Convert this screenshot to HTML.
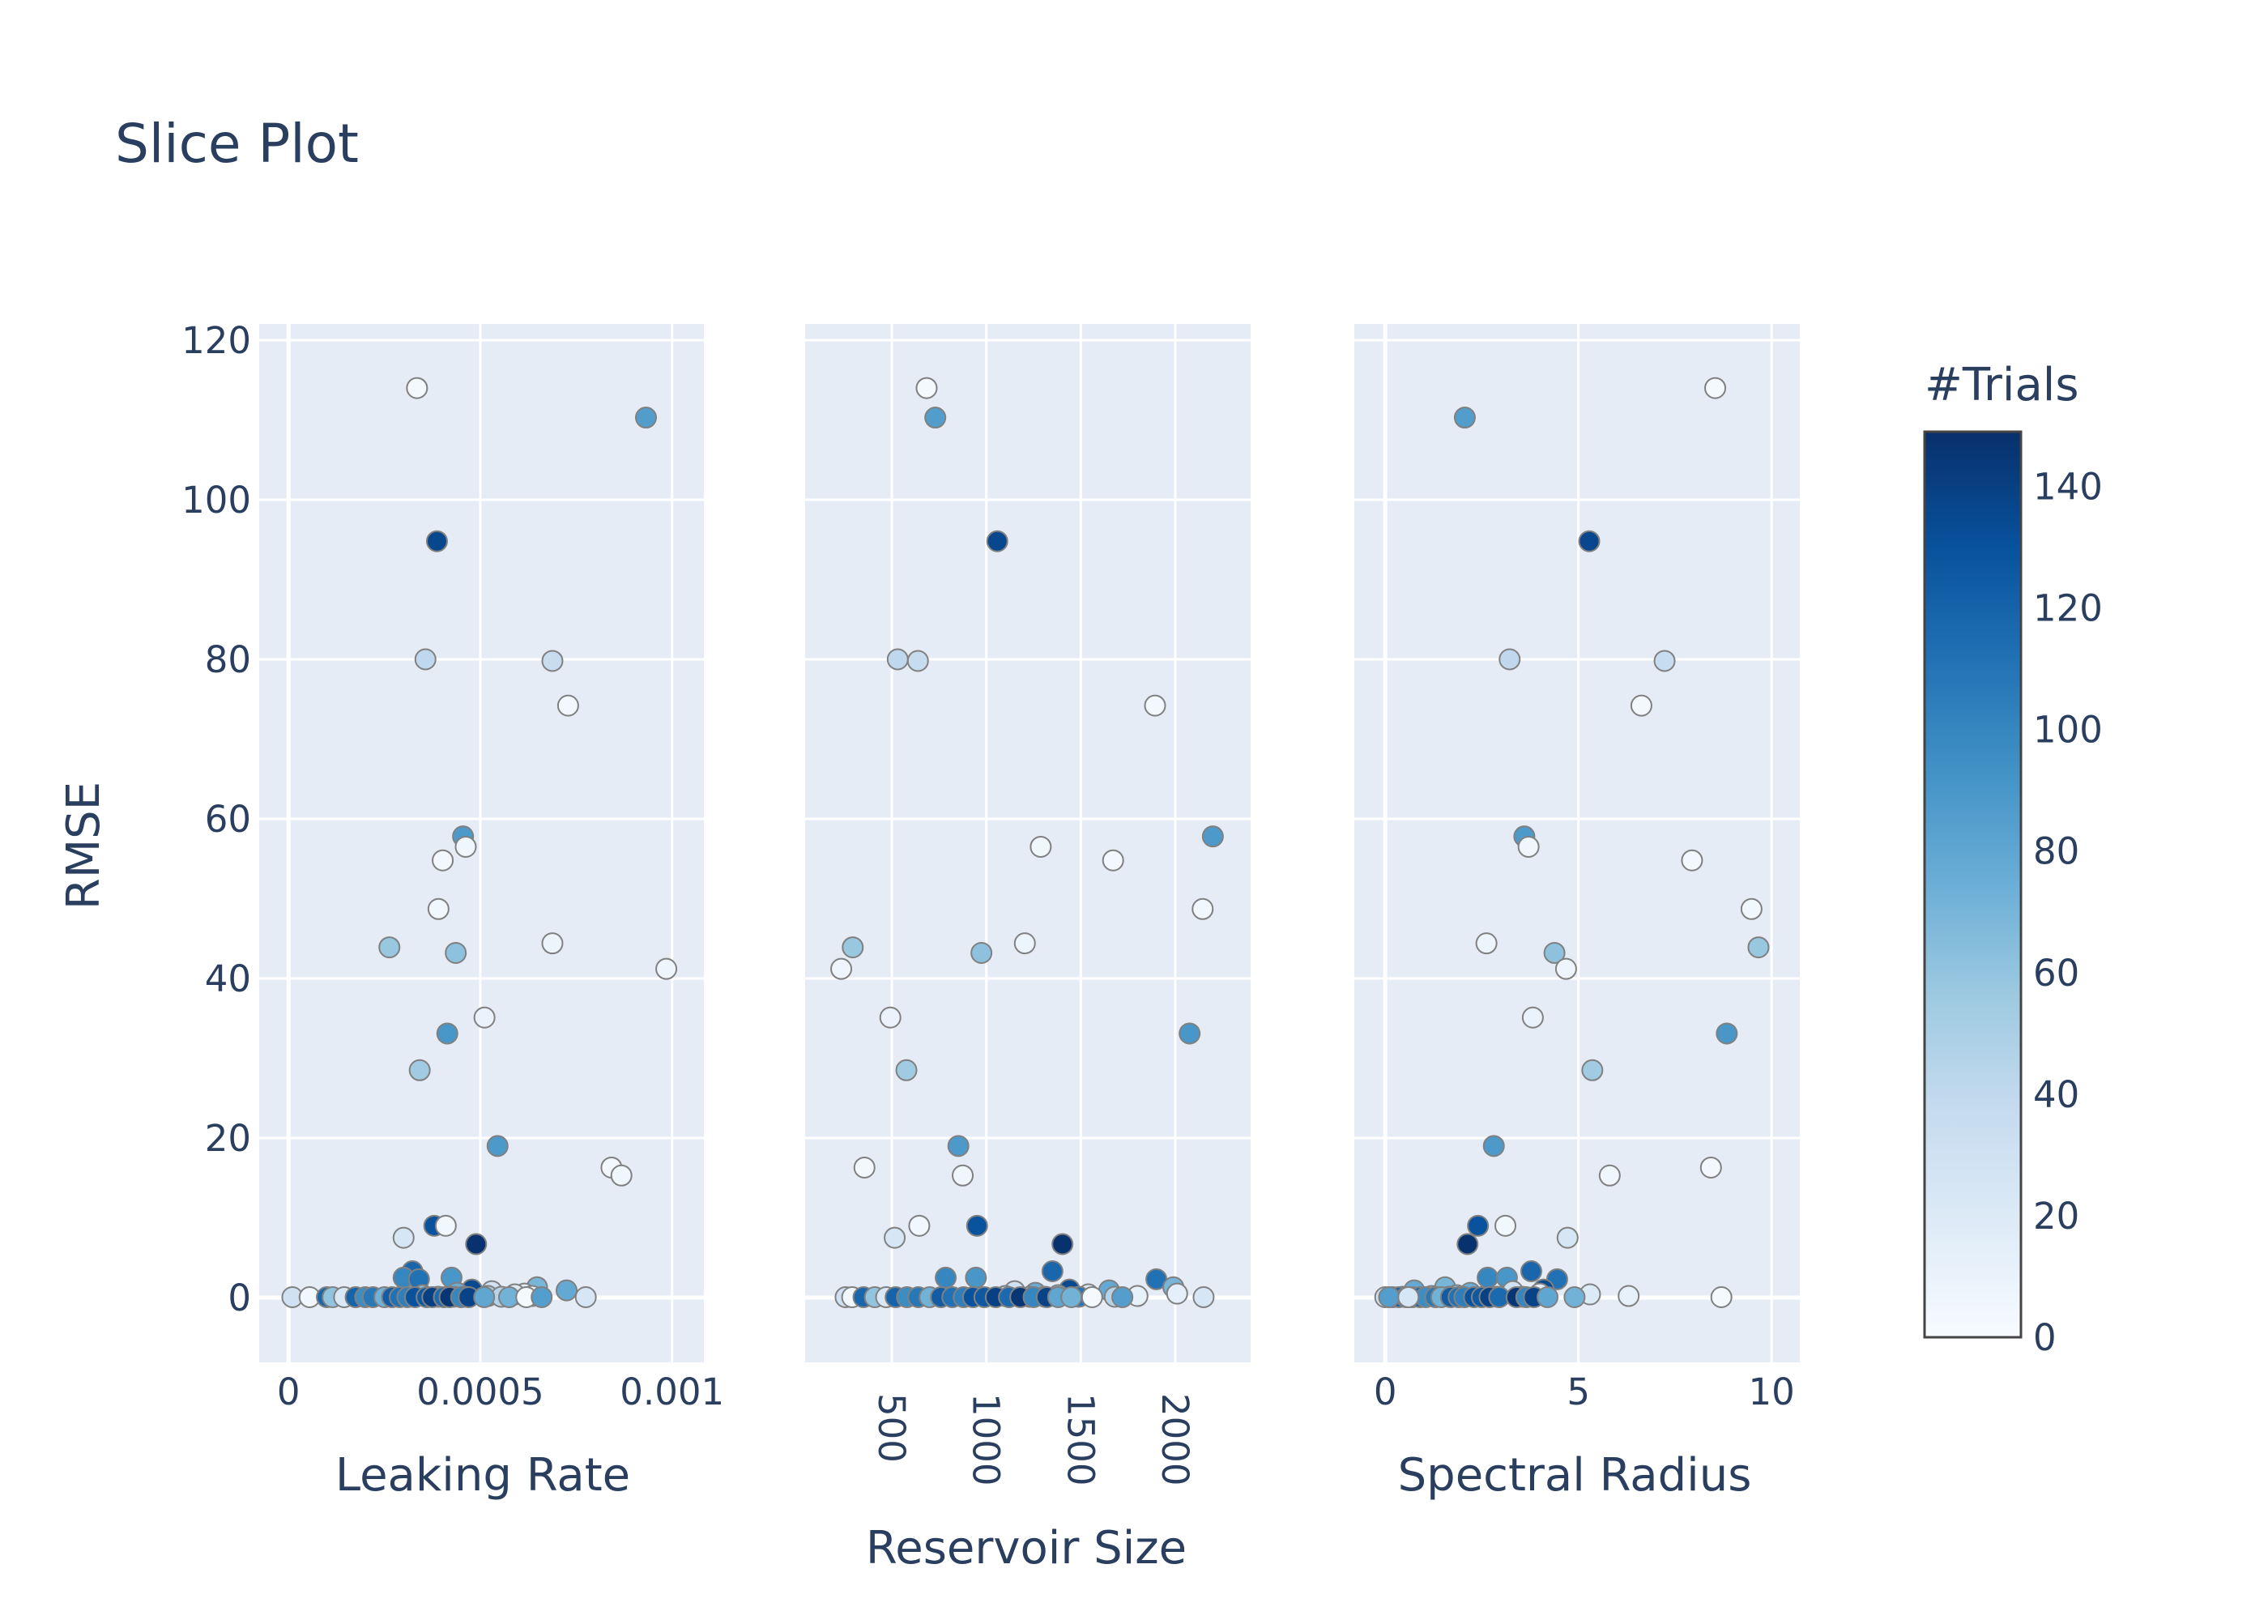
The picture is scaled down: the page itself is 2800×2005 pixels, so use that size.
<!DOCTYPE html>
<html><head><meta charset="utf-8"><style>
html,body{margin:0;padding:0;background:#fff;}
svg text{font-family:"DejaVu Sans","Liberation Sans",sans-serif;fill:#2a3f5f;}
</style></head><body>
<svg id="chart" width="2800" height="2000" viewBox="0 0 2800 2000" xmlns="http://www.w3.org/2000/svg">
<defs>
<linearGradient id="cbgrad" x1="0" y1="1" x2="0" y2="0">
<stop offset="0" stop-color="rgb(247,251,255)"/><stop offset="0.125" stop-color="rgb(222,235,247)"/>
<stop offset="0.25" stop-color="rgb(198,219,239)"/><stop offset="0.375" stop-color="rgb(158,202,225)"/>
<stop offset="0.5" stop-color="rgb(107,174,214)"/><stop offset="0.625" stop-color="rgb(66,146,198)"/>
<stop offset="0.75" stop-color="rgb(33,113,181)"/><stop offset="0.875" stop-color="rgb(8,81,156)"/>
<stop offset="1" stop-color="rgb(8,48,107)"/>
</linearGradient>
</defs>
<text x="142" y="200" font-size="66">Slice Plot</text>
<g id="panels"></g>
<text transform="translate(122,1044) rotate(-90)" text-anchor="middle" font-size="56">RMSE</text>
<text x="596" y="1840" text-anchor="middle" font-size="56">Leaking Rate</text>
<text x="1267" y="1930" text-anchor="middle" font-size="56">Reservoir Size</text>
<text x="1944" y="1840" text-anchor="middle" font-size="56">Spectral Radius</text>
<g id="colorbar"></g>
</svg>
<script>
// data: one entry per trial
const rmse = [114, 110.3, 94.8, 80, 79.8, 74.2, 57.8, 56.5, 54.8, 48.7, 43.9, 44.4, 43.2, 41.2, 35.1, 33.1, 28.5, 19, 16.3, 15.3, 9, 9, 7.5, 6.7, 3.3, 2.5, 2.5, 2.3, 1.3, 1.0, 0.9, 0.8, 0.6, 0.5, 0.4, 0.3, 0.2, 0.2, 0.1, 0.1, 0.1, 0.1, 0.05, 0.05, 0.05, 0.05, 0.05, 0.05, 0.05, 0.05, 0.05, 0.05, 0.05, 0.05, 0.05, 0.05, 0.05, 0.05, 0.05, 0.05, 0.05, 0.05, 0.05, 0.05, 0.05, 0.05];
const leakingRate = [0.000335, 0.000932, 0.000387, 0.000357, 0.000688, 0.000729, 0.000455, 0.000462, 0.000402, 0.000391, 0.000263, 0.000688, 0.000436, 0.000985, 0.000511, 0.000414, 0.000342, 0.000545, 0.000842, 0.000868, 0.00038, 0.00041, 0.0003, 0.000489, 0.000323, 0.0003, 0.000425, 0.00034, 0.000648, 0.000478, 0.000725, 0.00053, 0.00044, 0.000615, 0.00059, 0.00035, 0.000635, 0.00052, 0.00046, 0.000555, 0.00039, 0.00043, 0.00001, 0.000055, 0.0001, 0.000115, 0.000145, 0.000175, 0.0002, 0.00022, 0.00025, 0.00027, 0.00029, 0.00031, 0.00033, 0.00036, 0.000375, 0.000405, 0.00042, 0.00045, 0.00047, 0.00051, 0.000575, 0.00062, 0.00066, 0.000775];
const reservoirSize = [684, 730, 1058, 531, 638, 1893, 2199, 1288, 1671, 2145, 293, 1204, 974, 232, 492, 2076, 577, 852, 355, 875, 951, 645, 515, 1403, 1350, 785, 945, 1900, 1990, 1440, 1650, 1150, 1260, 2010, 1540, 1380, 1800, 1100, 1230, 1680, 1310, 1490, 255, 290, 350, 410, 470, 520, 580, 640, 700, 760, 820, 880, 930, 990, 1050, 1120, 1180, 1250, 1320, 1380, 1450, 1560, 1720, 2150];
const spectralRadius = [8.54, 2.06, 5.28, 3.22, 7.23, 6.63, 3.6, 3.71, 7.94, 9.48, 9.66, 2.62, 4.38, 4.68, 3.82, 8.84, 5.36, 2.81, 8.43, 5.81, 2.4, 3.11, 4.72, 2.13, 3.78, 2.65, 3.15, 4.45, 1.55, 4.1, 0.75, 3.3, 2.2, 4.0, 5.3, 1.85, 6.3, 1.2, 2.9, 0.45, 3.55, 1.65, 0.0, 0.2, 0.35, 0.55, 0.7, 0.9, 1.05, 1.3, 1.45, 1.7, 1.9, 2.05, 2.3, 2.5, 2.7, 2.95, 3.4, 3.65, 3.85, 4.2, 4.9, 8.7, 0.1, 0.6];
const trials = [2, 86, 136, 40, 36, 4, 88, 6, 3, 5, 58, 8, 62, 7, 10, 90, 55, 88, 3, 6, 130, 5, 25, 148, 118, 100, 90, 112, 70, 135, 78, 30, 75, 14, 20, 60, 12, 50, 42, 45, 38, 110, 30, 5, 118, 60, 22, 120, 96, 108, 72, 124, 112, 104, 130, 126, 140, 116, 146, 100, 138, 80, 72, 2, 85, 25];

const yTicks = [0, 20, 40, 60, 80, 100, 120];
const lrTicks = [0, 0.0005, 0.001];
const lrTickLabels = ["0", "0.0005", "0.001"];
const rsTicks = [500, 1000, 1500, 2000];
const srTicks = [0, 5, 10];
const cbTicks = [0, 20, 40, 60, 80, 100, 120, 140];

const NS = "http://www.w3.org/2000/svg";
function mk(tag, attrs, parent){const e=document.createElementNS(NS,tag);for(const k in attrs)e.setAttribute(k,attrs[k]);parent.appendChild(e);return e;}

const yTop = 400, yBot = 1682;
function yScale(v){ return 1602 + (0 - v) * ((1602 - 420) / 120); }

const stops = [[0,[247,251,255]],[0.125,[222,235,247]],[0.25,[198,219,239]],[0.375,[158,202,225]],[0.5,[107,174,214]],[0.625,[66,146,198]],[0.75,[33,113,181]],[0.875,[8,81,156]],[1,[8,48,107]]];
const cmax = 149;
function colorFor(t){
  const f = Math.max(0, Math.min(1, t / cmax));
  for (let i = 1; i < stops.length; i++){
    if (f <= stops[i][0]){
      const a = stops[i-1], b = stops[i]; const u = (f - a[0]) / (b[0] - a[0]);
      const c = a[1].map((v, j) => Math.round(v + (b[1][j] - v) * u));
      return "rgb(" + c.join(",") + ")";
    }
  }
  return "rgb(8,48,107)";
}

const panels = [
  {name:"leaking-rate", x0:320, x1:869, d0:-0.0000765, d1:0.001083, vals:leakingRate, ticks:lrTicks, labels:lrTickLabels, rot:false},
  {name:"reservoir-size", x0:994, x1:1544, d0:41, d1:2399, vals:reservoirSize, ticks:rsTicks, labels:rsTicks.map(String), rot:true},
  {name:"spectral-radius", x0:1672, x1:2222, d0:-0.8, d1:10.73, vals:spectralRadius, ticks:srTicks, labels:srTicks.map(String), rot:false}
];

const gAll = document.getElementById("panels");
panels.forEach((p, pi) => {
  const xs = v => p.x0 + (v - p.d0) / (p.d1 - p.d0) * (p.x1 - p.x0);
  const g = mk("g", {}, gAll);
  
  
  const bg = mk("rect", {x:p.x0, y:yTop, width:p.x1 - p.x0, height:yBot - yTop, fill:"#e5ecf6"}, g);
  
  
  yTicks.forEach(t => {
    const y = yScale(t);
    const gl = mk("line", {x1:p.x0, x2:p.x1, y1:y, y2:y, stroke:"#fff", "stroke-width": t === 0 ? 5 : 3}, g);
    
    
    if (pi === 0){
      const tx = mk("text", {x:310, y:y + 16, "text-anchor":"end", "font-size":45}, g);
      tx.textContent = t;
      
      
    }
  });
  p.ticks.forEach((t, i) => {
    const x = xs(t);
    const gl = mk("line", {x1:x, x2:x, y1:yTop, y2:yBot, stroke:"#fff", "stroke-width": t === 0 ? 5 : 3}, g);
    
    
    let tx;
    if (p.rot){
      tx = mk("text", {transform:"translate(" + (x - 16) + ",1720) rotate(90)", "text-anchor":"start", "font-size":45}, g);
    } else {
      tx = mk("text", {x:x, y:1734, "text-anchor":"middle", "font-size":45}, g);
    }
    tx.textContent = p.labels[i];
    
    
  });
  trials.forEach((t, i) => {
    const c = mk("circle", {cx:xs(p.vals[i]), cy:yScale(rmse[i]), r:12.5, fill:colorFor(trials[i]), stroke:"#808080", "stroke-width":2}, g);
    
    
  });
});

// colorbar
const cb = document.getElementById("colorbar");
const cbTop = 533, cbBot = 1651, cbX0 = 2376, cbX1 = 2495;
const cbY = v => cbBot - v / cmax * (cbBot - cbTop);
const cbr = mk("rect", {x:cbX0, y:cbTop, width:cbX1 - cbX0, height:cbBot - cbTop, fill:"url(#cbgrad)", stroke:"#444", "stroke-width":3}, cb);


cbTicks.forEach(t => {
  const tx = mk("text", {x:2510, y:cbY(t) + 16, "font-size":45}, cb);
  tx.textContent = t;
  
  
});
const cbt = mk("text", {x:2376, y:494, "font-size":56}, cb);
cbt.textContent = "#Trials";


</script>
</body></html>
